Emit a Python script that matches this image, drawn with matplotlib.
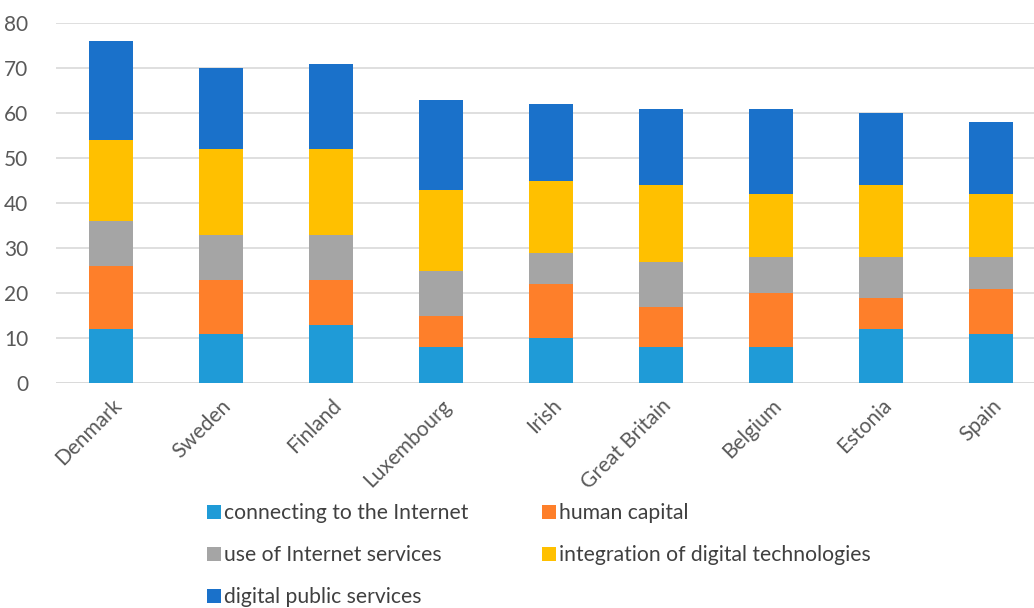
import numpy as np
import matplotlib.pyplot as plt
from matplotlib.patches import Patch

# Digital economy index components by country
countries = ['Denmark', 'Sweden', 'Finland', 'Luxembourg', 'Irish',
             'Great Britain', 'Belgium', 'Estonia', 'Spain']
connecting = [12, 11, 13, 8, 10, 8, 8, 12, 11]
human_capital = [14, 12, 10, 7, 12, 9, 12, 7, 10]
internet_use = [10, 10, 10, 10, 7, 10, 8, 9, 7]
integration = [18, 19, 19, 18, 16, 17, 14, 16, 14]
public_services = [22, 18, 19, 20, 17, 17, 19, 16, 16]

series = [
    ('connecting to the Internet', connecting, '#1F9BD7'),
    ('human capital', human_capital, '#FE7F2A'),
    ('use of Internet services', internet_use, '#A5A5A5'),
    ('integration of digital technologies', integration, '#FFC000'),
    ('digital public services', public_services, '#1A71CA'),
]

plt.rcParams['font.family'] = ['Lato', 'DejaVu Sans']

fig = plt.figure(figsize=(10.34, 6.08), dpi=100)
ax = fig.add_axes([56 / 1034, 225 / 608, 978 / 1034, 360 / 608])

x = np.arange(len(countries))
bottom = np.zeros(len(countries))
handles = []
for name, vals, col in series:
    ax.bar(x, vals, width=0.4, bottom=bottom, color=col, zorder=3)
    bottom += np.array(vals)
    handles.append(Patch(facecolor=col, label=name))

ax.set_xlim(-0.5, -0.5 + 978 / 110)
ax.set_ylim(0, 80)
ax.set_yticks(np.arange(0, 81, 10))
ax.yaxis.grid(True, color='#D9D9D9', linewidth=1.2, zorder=0)
for s in ['top', 'right', 'left', 'bottom']:
    ax.spines[s].set_visible(False)
ax.axhline(0, color='#D9D9D9', linewidth=1.2, zorder=2)
ax.tick_params(axis='both', length=0, colors='#595959', labelsize=15)
ax.tick_params(axis='y', pad=20)
ax.set_xticks(x)
ax.set_xticklabels(countries, rotation=45, ha='right', rotation_mode='anchor')
ax.tick_params(axis='x', pad=9)

# legend laid out row by row: two columns, three rows
order = [0, 2, 4, 1, 3]
fig.legend([handles[i] for i in order], [handles[i].get_label() for i in order],
           ncol=2, loc='upper left', bbox_to_anchor=(188 / 1034, 1 - 484 / 608),
           frameon=False, fontsize=15.2, handlelength=0.65, handleheight=0.65,
           handletextpad=0.15, columnspacing=3.5, labelspacing=1.05,
           labelcolor='#404040')

fig.savefig('out.png', dpi=100)
